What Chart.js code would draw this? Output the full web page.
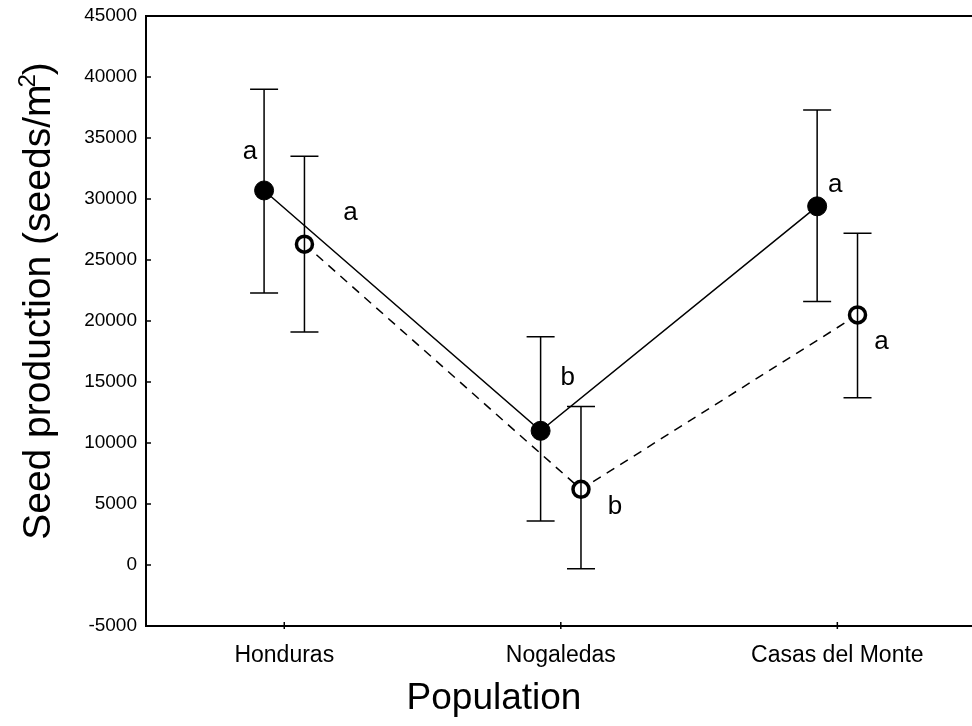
<!DOCTYPE html>
<html>
<head>
<meta charset="utf-8">
<script src="https://cdn.jsdelivr.net/npm/chart.js@4.4.1/dist/chart.umd.min.js"></script>
<style>
  html, body { margin: 0; padding: 0; background: #fff; overflow: hidden; }
  #wrap { width: 972px; height: 726px; position: relative; }
  canvas { display: block; }
</style>
</head>
<body>
<div id="wrap"><canvas id="chart"></canvas></div>
<script>
// Populations on the x axis
const populations = ['Honduras', 'Nogaledas', 'Casas del Monte'];

// Filled circles, solid line
const filledMean = [30700, 11000, 29400];
const filledLow = [22300, 3600, 21600];
const filledHigh = [39000, 18700, 37300];
const filledLetters = ['a', 'b', 'a'];

// Open circles, dashed line
const openMean = [26300, 6200, 20500];
const openLow = [19100, -300, 13700];
const openHigh = [33500, 13000, 27200];
const openLetters = ['a', 'b', 'a'];

// y axis ticks
const yTicks = [-5000, 0, 5000, 10000, 15000, 20000, 25000, 30000, 35000, 40000, 45000];

const FONT = "'Liberation Sans', Arial, sans-serif";
const dodge = 0.073;

function toPoints(means, shift) {
    return means.map((v, i) => ({ x: i + 1 + shift, y: v }));
}

// where the significance letters go, relative to each point (px)
const letterOffsets = [
    [[-14, -39], [27, -53], [18, -21]],
    [[46, -31], [34, 17], [24, 27]]
];

const extrasPlugin = {
    id: 'extras',
    afterDatasetsDraw(chart) {
        const ctx = chart.ctx;
        const xs = chart.scales.x, ys = chart.scales.y;
        ctx.save();
        ctx.strokeStyle = '#000';
        ctx.lineWidth = 1.5;
        // error bars
        const sets = [[filledLow, filledHigh, -dodge], [openLow, openHigh, dodge]];
        sets.forEach(([lo, hi, shift]) => {
            lo.forEach((l, i) => {
                const px = xs.getPixelForValue(i + 1 + shift);
                const y1 = ys.getPixelForValue(l), y2 = ys.getPixelForValue(hi[i]);
                ctx.beginPath();
                ctx.moveTo(px, y1); ctx.lineTo(px, y2);
                ctx.moveTo(px - 14, y1); ctx.lineTo(px + 14, y1);
                ctx.moveTo(px - 14, y2); ctx.lineTo(px + 14, y2);
                ctx.stroke();
            });
        });
        ctx.restore();
    },
    afterDraw(chart) {
        const ctx = chart.ctx;
        const xs = chart.scales.x, ys = chart.scales.y;
        const area = chart.chartArea;
        ctx.save();
        ctx.strokeStyle = '#000';
        ctx.lineWidth = 2;
        // top frame line
        ctx.beginPath();
        ctx.moveTo(area.left - 1, area.top);
        ctx.lineTo(chart.width, area.top);
        ctx.stroke();
        // y ticks point inwards
        ctx.lineWidth = 1.5;
        yTicks.forEach(v => {
            const py = ys.getPixelForValue(v);
            ctx.beginPath();
            ctx.moveTo(area.left, py); ctx.lineTo(area.left + 5, py);
            ctx.stroke();
        });
        // x ticks cross the axis
        populations.forEach((p, i) => {
            const px = xs.getPixelForValue(i + 1);
            ctx.beginPath();
            ctx.moveTo(px, area.bottom - 4); ctx.lineTo(px, area.bottom + 3);
            ctx.stroke();
        });
        // letters
        ctx.fillStyle = '#000';
        ctx.font = '26px ' + FONT;
        ctx.textAlign = 'center';
        ctx.textBaseline = 'middle';
        [[filledMean, filledLetters, -dodge], [openMean, openLetters, dodge]].forEach(([means, letters, shift], s) => {
            means.forEach((v, i) => {
                const px = xs.getPixelForValue(i + 1 + shift);
                const py = ys.getPixelForValue(v);
                const off = letterOffsets[s][i];
                ctx.fillText(letters[i], px + off[0], py + off[1]);
            });
        });

        // axis titles
        ctx.font = '37px ' + FONT;
        ctx.textBaseline = 'alphabetic';
        ctx.fillText('Population', 494, 709);

        ctx.translate(50, 301);
        ctx.rotate(-Math.PI / 2);
        ctx.font = '39px ' + FONT;
        const main = 'Seed production (seeds/m';
        const wMain = ctx.measureText(main).width;
        ctx.font = '24px ' + FONT;
        const wSup = ctx.measureText('2').width;
        ctx.font = '39px ' + FONT;
        const wClose = ctx.measureText(')').width;
        const total = wMain + wSup - 4 + wClose;
        let x0 = -total / 2;
        ctx.textAlign = 'left';
        ctx.fillText(main, x0, 0);
        ctx.font = '24px ' + FONT;
        ctx.fillText('2', x0 + wMain - 3, -15);
        ctx.font = '39px ' + FONT;
        ctx.fillText(')', x0 + wMain + wSup - 4, 0);
        ctx.restore();
    }
};

new Chart(document.getElementById('chart').getContext('2d'), {
    type: 'line',
    data: {
        datasets: [
            {
                label: 'filled',
                data: toPoints(filledMean, -dodge),
                borderColor: '#000',
                borderWidth: 1.5,
                pointRadius: 9.5,
                pointBackgroundColor: '#000',
                pointBorderColor: '#000',
                pointBorderWidth: 1,
                fill: false,
                tension: 0
            },
            {
                label: 'open',
                data: toPoints(openMean, dodge),
                borderColor: '#000',
                borderWidth: 1.5,
                borderDash: [9, 7],
                pointRadius: 8,
                pointBackgroundColor: '#fff',
                pointBorderColor: '#000',
                pointBorderWidth: 3.5,
                fill: false,
                tension: 0
            }
        ]
    },
    options: {
        responsive: true,
        maintainAspectRatio: false,
        animation: false,
        layout: { autoPadding: false, padding: { top: 16, right: 0, left: 0, bottom: 0 } },
        plugins: {
            legend: { display: false },
            tooltip: { enabled: false }
        },
        scales: {
            x: {
                type: 'linear',
                min: 0.5,
                max: 3.487,
                afterBuildTicks: scale => { scale.ticks = populations.map((p, i) => ({ value: i + 1 })); },
                afterFit: scale => {
                    scale.height = 100;
                    scale.paddingLeft = 0;
                    scale.paddingRight = 0;
                },
                ticks: {
                    callback: v => populations[v - 1],
                    color: '#000',
                    font: { family: FONT, size: 23 },
                    padding: 16,
                    maxRotation: 0
                },
                grid: { display: true, drawOnChartArea: false, drawTicks: false },
                border: { color: '#000', width: 2 }
            },
            y: {
                min: -5000,
                max: 45000,
                afterBuildTicks: scale => { scale.ticks = yTicks.map(v => ({ value: v })); },
                afterFit: scale => {
                    scale.width = 146;
                    scale.paddingTop = 0;
                    scale.paddingBottom = 0;
                },
                ticks: {
                    callback: v => String(v),
                    color: '#000',
                    font: { family: FONT, size: 19 },
                    padding: 9
                },
                grid: { display: true, drawOnChartArea: false, drawTicks: false },
                border: { color: '#000', width: 2 }
            }
        }
    },
    plugins: [extrasPlugin]
});
</script>
</body>
</html>
